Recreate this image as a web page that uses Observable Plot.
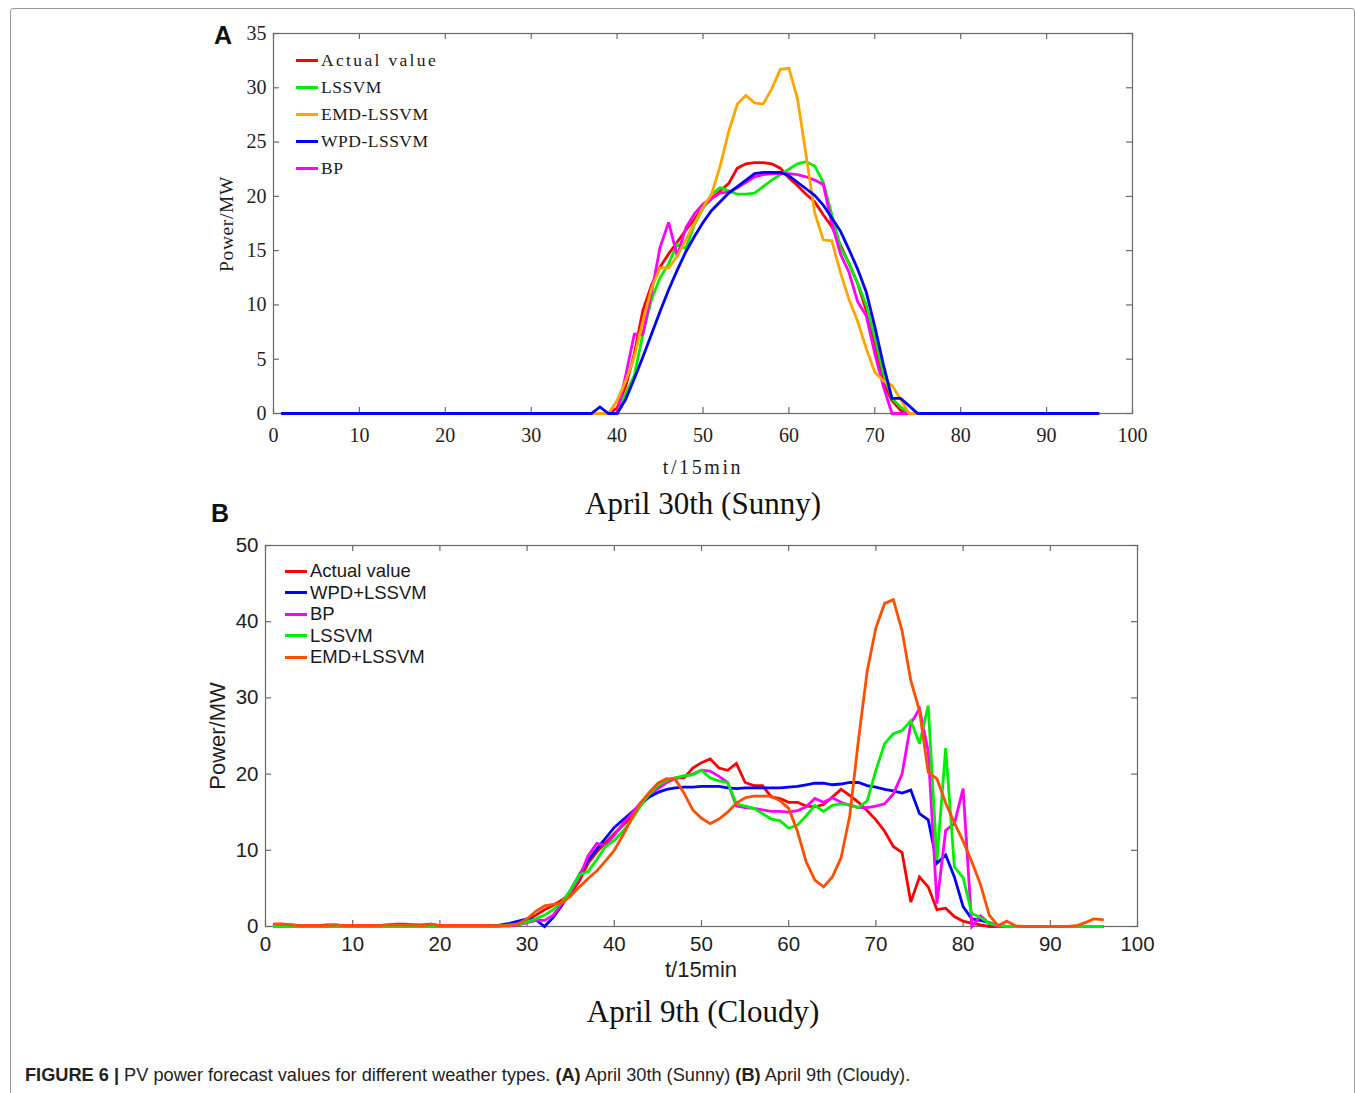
<!DOCTYPE html>
<html><head><meta charset="utf-8">
<script src="https://cdn.jsdelivr.net/npm/d3@7"></script>
<script src="https://cdn.jsdelivr.net/npm/@observablehq/plot@0.6"></script>
<style>
html,body{margin:0;padding:0;background:#fff;}
#root{position:relative;width:1355px;height:1093px;overflow:hidden;background:#fff;}
#root svg{position:absolute;left:0;}
.abs{position:absolute;white-space:nowrap;}
.row{position:absolute;display:flex;align-items:center;white-space:nowrap;}
.sw{display:inline-block;height:3px;}
</style></head>
<body><div id="root"></div>
<script>
// ---------- time steps (15-min intervals) ----------
const t = d3.range(1, 97);
const xTicks = [0,10,20,30,40,50,60,70,80,90,100];

// ---------- Panel A : April 30th (Sunny) ----------
const namesA = ["Actual value","LSSVM","EMD-LSSVM","WPD-LSSVM","BP"];
const yTicksA = [0,5,10,15,20,25,30,35];
const actualA = [
 0,0,0,0,0,0,0,0,0,0, 0,0,0,0,0,0,0,0,0,0, 0,0,0,0,0,0,0,0,0,0,
 0,0,0,0,0,0,0,0,0,0.5,
 2.5,5.5,9.5,11.8,13.5,14.7,15.8,16.9,17.9,19,
 19.8,20.5,21.2,22.6,23,23.1,23.1,23,22.6,21.7,
 21,20.2,19.5,18.3,17.2,15.5,13.8,12,9.5,6.5,
 2.8,1.2,0.3,0,0,0,0,0,0,0,
 0,0,0,0,0,0,0,0,0,0, 0,0,0,0,0,0];
const lssvmA = [
 0,0,0,0,0,0,0,0,0,0, 0,0,0,0,0,0,0,0,0,0, 0,0,0,0,0,0,0,0,0,0,
 0,0,0,0,0,0,0,0,0,0,
 1.8,3.5,7.3,10.5,12.5,13.8,15.6,15.2,17.4,18.9,
 20.2,20.8,20.5,20.2,20.2,20.3,20.9,21.5,22,22.5,
 23,23.2,22.8,21.3,18.3,15.3,13.8,12,10,7,
 3.7,1.4,0.6,0,0,0,0,0,0,0,
 0,0,0,0,0,0,0,0,0,0, 0,0,0,0,0,0];
const emdA = [
 0,0,0,0,0,0,0,0,0,0, 0,0,0,0,0,0,0,0,0,0, 0,0,0,0,0,0,0,0,0,0,
 0,0,0,0,0,0,0,0,0,1.2,
 3,5.2,8.5,11.5,13.4,13.4,14.5,16,17.5,19,
 20.2,22.8,26,28.5,29.3,28.6,28.5,29.9,31.7,31.8,
 29,23.8,18.5,16,15.9,13,10.5,8.5,6,3.8,
 3,2.6,1.3,0,0,0,0,0,0,0,
 0,0,0,0,0,0,0,0,0,0, 0,0,0,0,0,0];
const wpdA = [
 0,0,0,0,0,0,0,0,0,0, 0,0,0,0,0,0,0,0,0,0, 0,0,0,0,0,0,0,0,0,0,
 0,0,0,0,0,0,0,0.6,0,0,
 1.3,3.2,5.2,7.3,9.4,11.4,13.2,14.9,16.3,17.6,
 18.7,19.5,20.3,20.9,21.5,22.1,22.2,22.2,22.2,21.9,
 21.3,20.7,20.1,19.2,18,16.8,15.1,13.3,11.2,8,
 4.5,1.4,1.4,0.7,0,0,0,0,0,0,
 0,0,0,0,0,0,0,0,0,0, 0,0,0,0,0,0];
const bpA = [
 0,0,0,0,0,0,0,0,0,0, 0,0,0,0,0,0,0,0,0,0, 0,0,0,0,0,0,0,0,0,0,
 0,0,0,0,0,0,0,0,0,0,
 3.5,7.3,7.3,11.1,15.3,17.6,14.5,17.1,18.4,19.3,
 19.8,20.3,20.4,20.8,21.3,21.8,22,22.1,22.1,22.1,
 22,21.8,21.5,21.1,17.5,14.7,13,10.3,9,5.5,
 2.5,0,0,0,0,0,0,0,0,0,
 0,0,0,0,0,0,0,0,0,0, 0,0,0,0,0,0];

// ---------- Panel B : April 9th (Cloudy) ----------
const namesB = ["Actual value","WPD+LSSVM","BP","LSSVM","EMD+LSSVM"];
const yTicksB = [0,10,20,30,40,50];
const actualB = [
 0.3,0.3,0.2,0.1,0.1,0.1,0.2,0.2,0.1,0.1,
 0.1,0.1,0.1,0.2,0.3,0.3,0.2,0.2,0.3,0.1,
 0.1,0.1,0.1,0.1,0.1,0.1,0.1,0.2,0.4,0.8,
 1.5,2.2,2.8,3.5,4.3,6,8.3,9.8,11,12.2,
 13.3,14.4,16,17.4,18.3,19.2,19.5,19.5,20.8,21.5,
 22,20.8,20.5,21.4,18.9,18.5,18.5,17,16.8,16.3,
 16.3,15.8,15.7,16,17,18,17.2,16.3,15.2,14,
 12.5,10.5,9.7,3.2,6.5,5.2,2.2,2.4,1.3,0.7,
 0.4,0.2,0,0,0,0,0,0,0,0, 0,0,0,0,0,0];
const wpdB = [
 0.1,0.1,0,0,0,0,0,0,0,0,
 0,0,0,0,0,0,0,0,0,0,
 0,0,0,0,0,0,0.2,0.4,0.7,1,
 0.9,0,1.2,2.8,4.8,6.8,8.7,10.2,11.6,13,
 14,15,16,17,17.6,18,18.2,18.3,18.3,18.4,
 18.4,18.4,18.2,18.1,18.2,18.2,18.2,18.2,18.2,18.3,
 18.4,18.6,18.8,18.8,18.6,18.7,18.9,18.9,18.5,18.3,
 18,17.8,17.5,17.9,14.8,14,8.3,9.4,6.5,2.6,
 1,0.8,0.5,0.1,0,0,0,0,0,0, 0,0,0,0,0,0];
const bpB = [
 0,0,0,0,0,0,0,0,0,0,
 0,0,0,0,0,0,0,0,0,0,
 0,0,0,0,0,0,0.1,0.1,0.2,0.5,
 0.8,0.8,1.5,3,4.5,6.5,9.3,10.9,10.6,12,
 13.5,14.8,16.2,17.3,18.1,18.9,19.4,19.7,20,20.5,
 20.4,19.7,18.9,15.8,15.6,15.5,15.3,15.1,15.1,15,
 15.2,15.7,16.8,16.3,16.9,16.3,15.9,15.6,15.6,15.8,
 16.1,17.4,20,26.6,28.6,23,3,12.6,13.5,18.1,
 0,1.4,0.4,0,0,0,0,0,0,0, 0,0,0,0,0,0];
const lssvmB = [
 0,0,0,0,0,0,0,0,0,0,
 0,0,0,0,0,0,0,0,0,0,
 0,0,0,0,0,0,0.1,0.2,0.3,0.6,
 1,1.5,2.2,3.2,4.8,6.8,7.2,8.8,10.5,11.3,
 12.5,14,15.8,17.4,18.5,19.2,19.5,19.8,19.9,20.5,
 19.5,19.1,18.9,16.1,15.8,15.5,14.8,14.1,13.9,12.9,
 13.3,14.5,15.9,15.1,15.9,16.1,16,15.6,16.5,20.5,
 24,25.3,25.7,27,24,29,8.7,23.4,7.8,6.4,
 1.7,1.2,0.4,0.2,0,0,0,0,0,0, 0,0,0,0,0,0];
const emdB = [
 0.3,0.3,0.2,0.1,0.1,0.1,0.1,0.2,0.1,0.1,
 0.1,0.1,0.1,0.2,0.2,0.2,0.2,0.1,0.3,0.1,
 0.1,0.1,0.1,0.1,0.1,0.1,0.1,0.1,0.4,1,
 2,2.7,2.9,3.1,4,5.2,6.3,7.3,8.6,10,
 12,14.2,16.2,17.6,18.8,19.4,19.3,17.5,15.3,14.2,
 13.5,14.1,15,16.2,16.9,17.1,17.1,17.1,16.5,15.5,
 12.5,8.5,6.1,5.2,6.5,9,14.5,24.5,33.5,39.2,
 42.4,42.9,38.8,32.3,28.3,20.2,19.4,16.2,13.6,11.2,
 8.5,5.5,1.5,0.1,0.7,0.1,0,0,0,0,
 0,0,0.1,0.5,1,0.9];

// ---------- styles ----------
const colorsA = ["#ff0000","#00ee00","#ffa500","#0000ff","#ff00ff"];
const colorsB = ["#ff0000","#0000ff","#ff00ff","#00ee00","#ff4f00"];
const frameColor = "#6a6a6a";

function rows(names, series, order) {
  const out = [];
  order.forEach(k => series[k].forEach((v, i) => out.push({t: t[i], v, s: names[k]})));
  return out;
}
// drawing order (last drawn on top)
const rowsA = rows(namesA, [actualA, lssvmA, emdA, wpdA, bpA], [0, 1, 4, 2, 3]);
const rowsB = rows(namesB, [actualB, wpdB, bpB, lssvmB, emdB], [0, 1, 2, 3, 4]);

const root = document.getElementById("root");

function panel({top, height, mL, mR, mT, mB, yDomain, yTicks, names, colors, data, font, fontSize, xPad, yPad}) {
  const W = 1355;
  const pw = W - mL - mR, ph = height - mT - mB;
  const svg = Plot.plot({
    width: W, height,
    marginLeft: mL, marginRight: mR, marginTop: mT, marginBottom: mB,
    x: {domain: [0, 100], label: null},
    y: {domain: yDomain, label: null},
    color: {domain: names, range: colors},
    style: {fontFamily: font, fontSize: fontSize + "px", color: "#1e1e1e", background: "transparent", overflow: "visible"},
    marks: [
      Plot.frame({stroke: frameColor, strokeWidth: 1.2}),
      Plot.ruleY(yTicks, {stroke: frameColor, strokeWidth: 1.2, insetRight: pw - 6}),
      Plot.ruleY(yTicks, {stroke: frameColor, strokeWidth: 1.2, insetLeft: pw - 6}),
      Plot.ruleX(xTicks, {stroke: frameColor, strokeWidth: 1.2, insetTop: ph - 6}),
      Plot.ruleX(xTicks, {stroke: frameColor, strokeWidth: 1.2, insetBottom: ph - 6}),
      Plot.line(data, {x: "t", y: "v", z: "s", stroke: "s", strokeWidth: 2.8, strokeLinejoin: "miter", strokeMiterlimit: 3}),
      Plot.axisX(xTicks, {tickSize: 0, tickPadding: xPad, label: null, fontSize, fontFamily: font}),
      Plot.axisY(yTicks, {tickSize: 0, tickPadding: yPad, label: null, fontSize, fontFamily: font})
    ]
  });
  svg.style.top = top + "px";
  root.appendChild(svg);
}

panel({top: 0, height: 480, mL: 273, mR: 223, mT: 33, mB: 67, yDomain: [0, 35], yTicks: yTicksA,
  names: namesA, colors: colorsA, data: rowsA, font: "Liberation Serif", fontSize: 20, xPad: 14, yPad: 7});
panel({top: 500, height: 480, mL: 265, mR: 218, mT: 45, mB: 54, yDomain: [0, 50], yTicks: yTicksB,
  names: namesB, colors: colorsB, data: rowsB, font: "Liberation Sans", fontSize: 20.5, xPad: 10, yPad: 7});

// ---------- HTML text ----------
function addText(html, css) {
  const d = document.createElement("div");
  d.className = "abs";
  d.innerHTML = html;
  Object.assign(d.style, css);
  root.appendChild(d);
  return d;
}
const ctx = document.createElement("canvas").getContext("2d");
function legend(names, colors, {x, y0, dy, lineW, gap, font, size, charW, minSpacing}) {
  names.forEach((n, i) => {
    let spacing = 0;
    if (charW) {
      ctx.font = `${size}px "${font}"`;
      const natural = ctx.measureText(n).width;
      spacing = Math.max(minSpacing, (n.length * charW - natural) / n.length);
    }
    const r = document.createElement("div");
    r.className = "row";
    Object.assign(r.style, {left: x + "px", top: (y0 + i * dy - 12) + "px", height: "24px",
      fontFamily: font, fontSize: size + "px", letterSpacing: spacing + "px", color: "#1a1a1a"});
    r.innerHTML = `<span class="sw" style="width:${lineW}px;background:${colors[i]}"></span><span style="margin-left:${gap}px">${n}</span>`;
    root.appendChild(r);
  });
}

// frame border of the figure
addText("", {left: "10px", top: "8px", width: "1343px", height: "1200px", border: "1px solid #9a9a9a", borderRadius: "3px"});

// Panel A texts
addText("A", {left: "214px", top: "21px", fontFamily: "Liberation Sans", fontWeight: "bold", fontSize: "25px", color: "#111"});
legend(namesA, colorsA, {x: 296, y0: 60, dy: 27, lineW: 22, gap: 3, font: "Liberation Serif", size: 17.5, charW: 9.75, minSpacing: 0.5});
addText("Power/MW", {left: "227px", top: "224px", transform: "translate(-50%,-50%) rotate(-90deg)",
  fontFamily: "Liberation Serif", fontSize: "19.5px", letterSpacing: "0.6px", color: "#1e1e1e"});
addText("t/15min", {left: "703px", top: "467px", transform: "translate(-50%,-50%)",
  fontFamily: "Liberation Serif", fontSize: "20px", letterSpacing: "2.6px", color: "#1e1e1e"});
addText("April 30th (Sunny)", {left: "703px", top: "504px", transform: "translate(-50%,-50%)",
  fontFamily: "Liberation Serif", fontSize: "31px", color: "#111"});

// Panel B texts
addText("B", {left: "211px", top: "499px", fontFamily: "Liberation Sans", fontWeight: "bold", fontSize: "25px", color: "#111"});
legend(namesB, colorsB, {x: 285, y0: 571, dy: 21.6, lineW: 22, gap: 3, font: "Liberation Sans", size: 18.5, charW: 0, minSpacing: 0});
addText("Power/MW", {left: "218px", top: "736px", transform: "translate(-50%,-50%) rotate(-90deg)",
  fontFamily: "Liberation Sans", fontSize: "22px", color: "#1e1e1e"});
addText("t/15min", {left: "701px", top: "970px", transform: "translate(-50%,-50%)",
  fontFamily: "Liberation Sans", fontSize: "22px", color: "#1e1e1e"});
addText("April 9th (Cloudy)", {left: "703px", top: "1012px", transform: "translate(-50%,-50%)",
  fontFamily: "Liberation Serif", fontSize: "31px", color: "#111"});

// caption
addText('<b>FIGURE 6 |</b> PV power forecast values for different weather types. <b>(A)</b> April 30th (Sunny) <b>(B)</b> April 9th (Cloudy).',
  {left: "25px", top: "1065px", fontFamily: "Liberation Sans", fontSize: "18.2px", color: "#222"});
</script>
</body></html>
